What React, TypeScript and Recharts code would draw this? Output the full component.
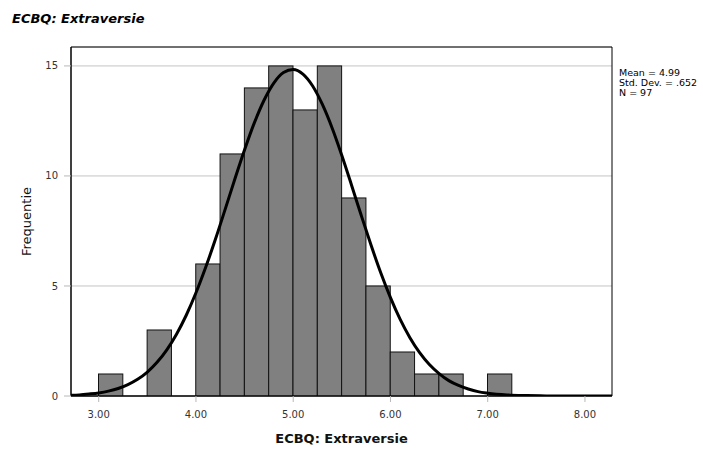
import React from "react";
import {
  ComposedChart,
  Bar,
  Line,
  XAxis,
  YAxis,
  CartesianGrid,
  ReferenceArea,
  Label,
} from "recharts";

// Histogram bins (lower edge) and frequencies
const binLower = [3.0, 3.25, 3.5, 3.75, 4.0, 4.25, 4.5, 4.75, 5.0, 5.25, 5.5, 5.75, 6.0, 6.25, 6.5, 6.75, 7.0];
const counts = [1, 0, 3, 0, 6, 11, 14, 15, 13, 15, 9, 5, 2, 1, 1, 0, 1];
const BIN_WIDTH = 0.25;

// Normal curve
const curveX = [2.7, 2.8, 2.9, 3.0, 3.1, 3.2, 3.3, 3.4, 3.5, 3.6, 3.7, 3.8, 3.9, 4.0, 4.1, 4.2, 4.3, 4.4, 4.5, 4.6, 4.7, 4.8, 4.9, 5.0, 5.1, 5.2, 5.3, 5.4, 5.5, 5.6, 5.7, 5.8, 5.9, 6.0, 6.1, 6.2, 6.3, 6.4, 6.5, 6.6, 6.7, 6.8, 6.9, 7.0, 7.2, 7.4, 7.6, 7.8, 8.0, 8.3];
const curveY = [0.03, 0.05, 0.09, 0.14, 0.22, 0.34, 0.52, 0.76, 1.09, 1.53, 2.1, 2.81, 3.67, 4.69, 5.85, 7.12, 8.48, 9.86, 11.19, 12.41, 13.44, 14.22, 14.7, 14.84, 14.63, 14.09, 13.25, 12.18, 10.93, 9.58, 8.2, 6.86, 5.6, 4.47, 3.48, 2.65, 1.97, 1.43, 1.02, 0.7, 0.48, 0.32, 0.2, 0.13, 0.05, 0.02, 0.005, 0.001, 0, 0];

const xTicks = [3, 4, 5, 6, 7, 8];
const yTicks = [0, 5, 10, 15];
const X_DOMAIN: [number, number] = [2.715, 8.278];
const Y_DOMAIN: [number, number] = [0, 15.86];

const statsLines = ["Mean = 4.99", "Std. Dev. = .652", "N = 97"];
const chartTitle = "ECBQ: Extraversie";
const xTitle = "ECBQ: Extraversie";
const yTitle = "Frequentie";

const W = 703;
const H = 450;
const MARGIN = { top: 47, right: 91, bottom: 0, left: 0 };
const Y_AXIS_W = 71;
const X_AXIS_H = 54;
const PLOT_W = W - MARGIN.left - MARGIN.right - Y_AXIS_W;
const BAR_PX = (BIN_WIDTH * PLOT_W) / (X_DOMAIN[1] - X_DOMAIN[0]);

const barData = binLower.map((lo, i) => ({ x: lo + BIN_WIDTH / 2, count: counts[i] }));
const curveData = curveX.map((x, i) => ({ x, y: curveY[i] }));

const FONT = "'DejaVu Sans', sans-serif";

const BinShape = (props: any) => {
  const { x, y, width, height } = props;
  if (!height || height <= 0) return null;
  const cx = x + width / 2;
  return (
    <rect
      x={cx - BAR_PX / 2}
      y={y}
      width={BAR_PX}
      height={height}
      fill="#808080"
      stroke="#111"
      strokeWidth={1}
    />
  );
};

export default function App() {
  return (
    <div style={{ position: "fixed", left: 0, top: 0, width: W, height: H, background: "#fff", fontFamily: FONT }}>
      <div
        style={{
          position: "absolute",
          left: 12,
          top: 11,
          fontSize: 13,
          fontWeight: "bold",
          fontStyle: "italic",
          color: "#000",
          whiteSpace: "nowrap",
        }}
      >
        {chartTitle}
      </div>
      <div
        style={{
          position: "absolute",
          left: 619,
          top: 68,
          fontSize: 9.5,
          lineHeight: "10px",
          color: "#000",
          whiteSpace: "nowrap",
        }}
      >
        {statsLines.map((s) => (
          <div key={s}>{s}</div>
        ))}
      </div>
      <ComposedChart
        width={W}
        height={H}
        data={barData}
        margin={MARGIN}
        barCategoryGap={0}
        barGap={0}
        style={{ fontFamily: FONT }}
      >
        <CartesianGrid vertical={false} stroke="#c4c4c4" strokeWidth={1} />
        <XAxis
          dataKey="x"
          type="number"
          domain={X_DOMAIN}
          allowDataOverflow
          ticks={xTicks}
          tickFormatter={(v: number) => v.toFixed(2)}
          height={X_AXIS_H}
          tickSize={6}
          tickMargin={9}
          tickLine={{ stroke: "#b8b8b8" }}
          axisLine={{ stroke: "#000" }}
          tick={{ fontSize: 10, fill: "#333", fontFamily: FONT }}
        >
          <Label
            value={xTitle}
            position="insideBottom"
            offset={7}
            style={{ fontSize: 13, fontWeight: "bold", fill: "#111", fontFamily: FONT }}
          />
        </XAxis>
        <YAxis
          type="number"
          domain={Y_DOMAIN}
          allowDataOverflow
          ticks={yTicks}
          width={Y_AXIS_W}
          tickSize={7}
          tickMargin={6}
          tickLine={{ stroke: "#b8b8b8" }}
          axisLine={{ stroke: "#000" }}
          tick={{ fontSize: 10, fill: "#333", fontFamily: FONT }}
        >
          <Label
            value={yTitle}
            angle={-90}
            position="center"
            dx={-9}
            style={{ fontSize: 13, fill: "#111", fontFamily: FONT, textAnchor: "middle" }}
          />
        </YAxis>
        <Bar dataKey="count" shape={BinShape} isAnimationActive={false} />
        <Line
          data={curveData}
          dataKey="y"
          type="monotone"
          stroke="#000"
          strokeWidth={3}
          dot={false}
          activeDot={false}
          isAnimationActive={false}
        />
        <ReferenceArea
          x1={X_DOMAIN[0]}
          x2={X_DOMAIN[1]}
          y1={Y_DOMAIN[0]}
          y2={Y_DOMAIN[1]}
          fill="none"
          fillOpacity={0}
          stroke="#000"
          strokeWidth={1}
          ifOverflow="extendDomain"
        />
      </ComposedChart>
    </div>
  );
}
